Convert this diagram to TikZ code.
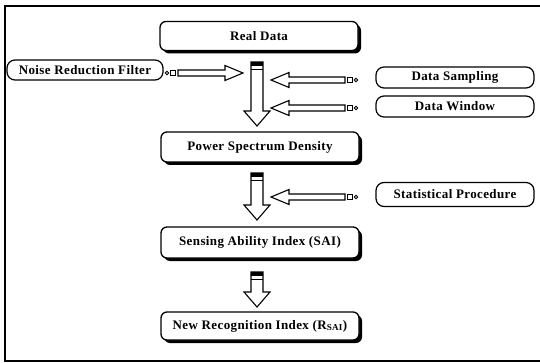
\documentclass[tikz,border=0pt]{standalone}
\usepackage{fontspec}
\setmainfont[LetterSpace=3]{Liberation Serif}
\usetikzlibrary{calc,shadows}

\tikzset{
	box/.style={draw, line width=1.3pt, rounded corners=6pt, fill=white, minimum width=198pt, minimum height=29pt,
		font=\fontsize{13}{15}\selectfont\bfseries, drop shadow={shadow xshift=3pt, shadow yshift=-3pt, fill=black, opacity=1}},
	sidebox/.style={draw, line width=1.2pt, rounded corners=8pt, fill=white, minimum width=158pt, minimum height=21pt,
		font=\fontsize{13}{15}\selectfont\bfseries},
	hollow/.style n args={3}{draw, line width=1.1pt, fill=white, to path={
		let \p1=(\tikztostart), \p2=(\tikztotarget),
			\n1={atan2(\y2-\y1,\x2-\x1)}, \n2={veclen(\x2-\x1,\y2-\y1)} in
		(\tikztostart) ++(\n1+90:#1pt) -- ++(\n1:\n2-#3pt) -- ++(\n1+90:#2pt-#1pt) -- (\tikztotarget)
		-- ($(\tikztotarget)+(\n1+180:#3pt)+(\n1-90:#2pt)$) -- ++(\n1+90:#2pt-#1pt)
		-- ($(\tikztostart)+(\n1-90:#1pt)$) -- cycle}},
	bits/.style={draw, line width=0.9pt, to path={
		let \p1=(\tikztostart), \p2=(\tikztotarget), \n1={atan2(\y2-\y1,\x2-\x1)} in
		($(\tikztostart)+(\n1+180:5pt)$) ++(-2.5pt,-2.5pt) rectangle ++(5pt,5pt)
		($(\tikztostart)+(\n1+180:11pt)$) circle[radius=1.8pt]}}
}

\begin{document}
\begin{tikzpicture}[x=1pt,y=-1pt]
	\useasboundingbox (0,0) rectangle (540,363);
	\draw [line width=1.5pt] (540,6) -- (5,6) -- (5,361) -- (540,361);

	\node [box](RD) at (259,36) {Real Data};
	\node [box,minimum height=30pt](PSD) at (260,147) {Power Spectrum Density};
	\node [box,minimum height=31pt](SAI) at (260,242.5) {Sensing Ability Index (SAI)};
	\node [box,minimum height=28pt](NRI) at (260,326) {New Recognition Index (R\textsubscript{SAI})};

	\node [sidebox,minimum width=156pt,minimum height=20pt](NRF) at (85,70) {Noise Reduction Filter};
	\node [sidebox](DS) at (455,77.5) {Data Sampling};
	\node [sidebox](DW) at (455,106.5) {Data Window};
	\node [sidebox,minimum height=24pt](SP) at (455,194.5) {Statistical Procedure};

	\coordinate (a1) at (257,62);
	\coordinate (a2) at (257,126);
	\coordinate (b1) at (257,173);
	\coordinate (b2) at (257,220);
	\coordinate (c1) at (257,272);
	\coordinate (c2) at (257,307);

	\coordinate (n1) at (178,73);
	\coordinate (n2) at (243,73);
	\coordinate (d1) at (345,80);
	\coordinate (d2) at (271,80);
	\coordinate (w1) at (345,108);
	\coordinate (w2) at (271,108);
	\coordinate (s1) at (345,197);
	\coordinate (s2) at (271,197);

	\draw [hollow={6}{13}{15}] (a1) to (a2);
	\draw [hollow={6}{13}{15}] (b1) to (b2);
	\draw [hollow={6}{13}{15}] (c1) to (c2);
	\fill ([xshift=-6pt]a1) rectangle ([xshift=6pt,yshift=-4pt]a1);
	\fill ([xshift=-6pt]b1) rectangle ([xshift=6pt,yshift=-4pt]b1);
	\fill ([xshift=-6pt]c1) rectangle ([xshift=6pt,yshift=-4pt]c1);
	\draw [line width=0.8pt] ([xshift=-6pt,yshift=-7pt]a1) -- ([xshift=6pt,yshift=-7pt]a1);
	\draw [line width=0.8pt] ([xshift=-6pt,yshift=-7pt]b1) -- ([xshift=6pt,yshift=-7pt]b1);
	\draw [line width=0.8pt] ([xshift=-6pt,yshift=-7pt]c1) -- ([xshift=6pt,yshift=-7pt]c1);

	\draw [hollow={3}{7.5}{18}] (n1) to (n2);
	\draw [hollow={3}{7.5}{18}] (d1) to (d2);
	\draw [hollow={3}{7.5}{18}] (w1) to (w2);
	\draw [hollow={3}{7.5}{18}] (s1) to (s2);
	\draw [bits] (n1) to (n2);
	\draw [bits] (d1) to (d2);
	\draw [bits] (w1) to (w2);
	\draw [bits] (s1) to (s2);
\end{tikzpicture}
\end{document}
